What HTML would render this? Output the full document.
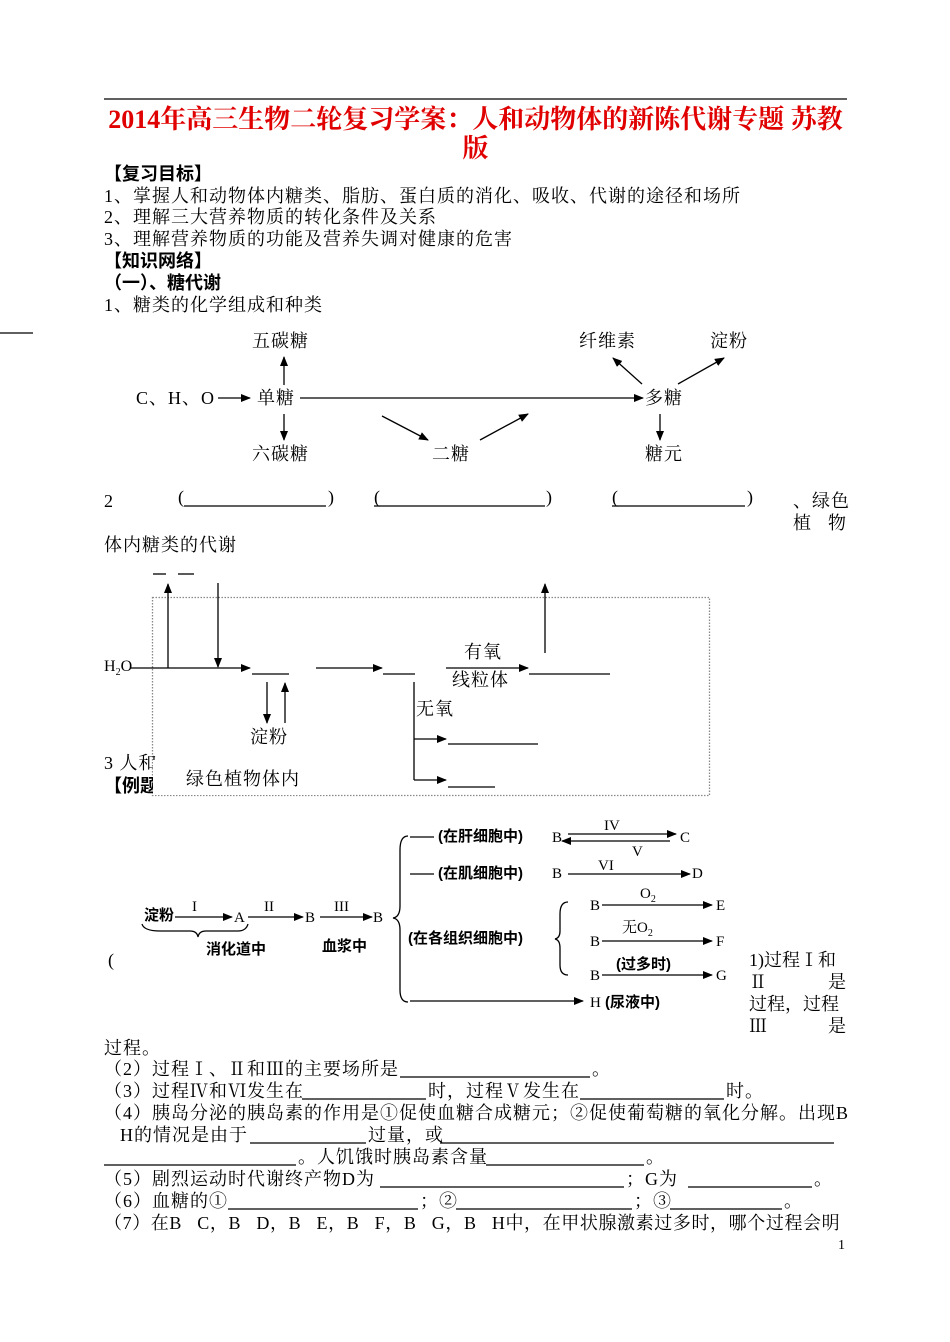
<!DOCTYPE html>
<html><head><meta charset="utf-8"><style>
body{margin:0;background:#fff;}
#p{position:relative;width:950px;height:1342px;overflow:hidden;font-family:"Liberation Serif","Noto Serif CJK SC",serif;font-size:18px;letter-spacing:1px;color:#000;}
.t{position:absolute;white-space:nowrap;line-height:20px;}
.b{font-weight:bold;font-family:"Liberation Sans","Noto Sans CJK SC",sans-serif;letter-spacing:0;}
.s{font-family:"Liberation Sans","Noto Sans CJK SC",sans-serif;font-weight:bold;font-size:15px;letter-spacing:0;}
.n{font-size:15px;letter-spacing:0;}
svg{position:absolute;left:0;top:0;}
</style></head><body><div id="p">
<svg width="950" height="1342">
<defs><marker id="a" markerWidth="10" markerHeight="8" refX="9" refY="4" orient="auto" markerUnits="userSpaceOnUse"><path d="M0,0L10,4L0,8z" fill="#000"/></marker></defs>
<g stroke="#000" stroke-width="1.3" fill="none">
<line x1="104" y1="99" x2="847" y2="99"/>
<line x1="0" y1="333" x2="33" y2="333"/>
<line x1="218" y1="398" x2="250" y2="398" marker-end="url(#a)"/>
<line x1="284" y1="385" x2="284" y2="357" marker-end="url(#a)"/>
<line x1="284" y1="414" x2="284" y2="440" marker-end="url(#a)"/>
<line x1="300" y1="398" x2="643" y2="398" marker-end="url(#a)"/>
<line x1="382" y1="416" x2="428" y2="440" marker-end="url(#a)"/>
<line x1="480" y1="440" x2="528" y2="414" marker-end="url(#a)"/>
<line x1="660" y1="414" x2="660" y2="440" marker-end="url(#a)"/>
<line x1="642" y1="384" x2="613" y2="358" marker-end="url(#a)"/>
<line x1="678" y1="384" x2="724" y2="358" marker-end="url(#a)"/>
<line x1="184" y1="506" x2="326" y2="506"/>
<line x1="374" y1="506" x2="545" y2="506"/>
<line x1="612" y1="506" x2="745" y2="506"/>
<rect x="152.5" y="597.5" width="557" height="198" stroke="#888" stroke-dasharray="1.5,1.5"/>
<line x1="153" y1="574" x2="166" y2="574"/><line x1="178" y1="574" x2="194" y2="574"/>
<line x1="130" y1="668" x2="250" y2="668" marker-end="url(#a)"/>
<line x1="168" y1="668" x2="168" y2="584" marker-end="url(#a)"/>
<line x1="218" y1="583" x2="218" y2="667" marker-end="url(#a)"/>
<line x1="252" y1="674" x2="289" y2="674"/>
<line x1="267" y1="682" x2="267" y2="723" marker-end="url(#a)"/>
<line x1="285" y1="723" x2="285" y2="683" marker-end="url(#a)"/>
<line x1="316" y1="668" x2="382" y2="668" marker-end="url(#a)"/>
<line x1="383" y1="674" x2="415" y2="674"/>
<line x1="414" y1="682" x2="414" y2="780"/>
<line x1="414" y1="739" x2="446" y2="739" marker-end="url(#a)"/>
<line x1="414" y1="780" x2="446" y2="780" marker-end="url(#a)"/>
<line x1="448" y1="744" x2="538" y2="744"/>
<line x1="448" y1="787" x2="495" y2="787"/>
<line x1="446" y1="668" x2="528" y2="668" marker-end="url(#a)"/>
<line x1="529" y1="674" x2="610" y2="674"/>
<line x1="545" y1="653" x2="545" y2="584" marker-end="url(#a)"/>
<line x1="175" y1="917" x2="232" y2="917" marker-end="url(#a)"/>
<line x1="248" y1="917" x2="303" y2="917" marker-end="url(#a)"/>
<line x1="320" y1="917" x2="372" y2="917" marker-end="url(#a)"/>
<path d="M142,924 Q144,931 160,931 L190,931 Q197,931 198,937 Q199,931 206,931 L238,931 Q246,931 248,924"/>
<path d="M408,836 Q400,836 400,850 L400,906 Q400,917 393,918 Q400,919 400,930 L400,990 Q400,1002 408,1002"/>
<line x1="410" y1="837" x2="434" y2="837"/>
<line x1="410" y1="874" x2="434" y2="874"/>
<line x1="568" y1="834" x2="676" y2="834" marker-end="url(#a)"/>
<line x1="670" y1="841" x2="562" y2="841" marker-end="url(#a)"/>
<line x1="568" y1="874" x2="690" y2="874" marker-end="url(#a)"/>
<path d="M568,902 Q560,902 560,914 L560,931 Q560,938 555,939 Q560,940 560,948 L560,965 Q560,975 568,975"/>
<line x1="602" y1="905" x2="712" y2="905" marker-end="url(#a)"/>
<line x1="602" y1="941" x2="712" y2="941" marker-end="url(#a)"/>
<line x1="602" y1="975" x2="712" y2="975" marker-end="url(#a)"/>
<line x1="410" y1="1001" x2="583" y2="1001" marker-end="url(#a)"/>
<line x1="400" y1="1077" x2="590" y2="1077"/>
<line x1="302" y1="1099" x2="426" y2="1099"/>
<line x1="580" y1="1099" x2="724" y2="1099"/>
<line x1="250" y1="1143" x2="366" y2="1143"/>
<line x1="440" y1="1143" x2="834" y2="1143"/>
<line x1="104" y1="1165" x2="296" y2="1165"/>
<line x1="486" y1="1165" x2="644" y2="1165"/>
<line x1="380" y1="1187" x2="624" y2="1187"/>
<line x1="688" y1="1187" x2="812" y2="1187"/>
<line x1="228" y1="1209" x2="418" y2="1209"/>
<line x1="456" y1="1209" x2="632" y2="1209"/>
<line x1="670" y1="1209" x2="782" y2="1209"/>
</g>
</svg>
<div class="t" style="left:104px;top:105px;width:743px;text-align:center;color:#e00000;font-weight:bold;font-size:26px;letter-spacing:0;line-height:29px;white-space:normal;">2014年高三生物二轮复习学案：人和动物体的新陈代谢专题&nbsp;苏教<br>版</div>
<div class="t b" style="left:104px;top:164px;">【复习目标】</div>
<div class="t" style="left:104px;top:186px;">1、掌握人和动物体内糖类、脂肪、蛋白质的消化、吸收、代谢的途径和场所</div>
<div class="t" style="left:104px;top:207px;">2、理解三大营养物质的转化条件及关系</div>
<div class="t" style="left:104px;top:229px;">3、理解营养物质的功能及营养失调对健康的危害</div>
<div class="t b" style="left:104px;top:251px;">【知识网络】</div>
<div class="t b" style="left:104px;top:273px;">（一）、糖代谢</div>
<div class="t" style="left:104px;top:295px;">1、糖类的化学组成和种类</div>
<div class="t" style="left:252px;top:331px;">五碳糖</div>
<div class="t" style="left:136px;top:388px;">C、H、O</div>
<div class="t" style="left:257px;top:388px;">单糖</div>
<div class="t" style="left:252px;top:444px;">六碳糖</div>
<div class="t" style="left:432px;top:444px;">二糖</div>
<div class="t" style="left:579px;top:331px;">纤维素</div>
<div class="t" style="left:710px;top:331px;">淀粉</div>
<div class="t" style="left:645px;top:388px;">多糖</div>
<div class="t" style="left:645px;top:444px;">糖元</div>
<div class="t" style="left:104px;top:491px;">2</div>
<div class="t" style="left:178px;top:487px;">(</div><div class="t" style="left:328px;top:487px;">)</div>
<div class="t" style="left:374px;top:487px;">(</div><div class="t" style="left:546px;top:487px;">)</div>
<div class="t" style="left:612px;top:487px;">(</div><div class="t" style="left:747px;top:487px;">)</div>
<div class="t" style="left:793px;top:491px;">、绿色</div>
<div class="t" style="left:793px;top:513px;width:54px;">植<span style="position:absolute;right:0">物</span></div>
<div class="t" style="left:104px;top:535px;">体内糖类的代谢</div>
<div class="t" style="left:104px;top:657px;font-size:16px;letter-spacing:0;">H<sub style="font-size:10px">2</sub>O</div>
<div class="t" style="left:464px;top:642px;">有氧</div>
<div class="t" style="left:452px;top:670px;">线粒体</div>
<div class="t" style="left:416px;top:699px;">无氧</div>
<div class="t" style="left:250px;top:727px;">淀粉</div>
<div class="t" style="left:104px;top:753px;">3 人和</div>
<div class="t b" style="left:104px;top:776px;">【例题</div>
<div class="t" style="left:153px;top:760px;width:175px;height:35px;background:#fff;"></div>
<div class="t" style="left:186px;top:769px;">绿色植物体内</div>
<div class="t s" style="left:144px;top:906px;">淀粉</div>
<div class="t n" style="left:192px;top:897px;">I</div>
<div class="t n" style="left:234px;top:908px;">A</div>
<div class="t n" style="left:264px;top:897px;">II</div>
<div class="t n" style="left:305px;top:908px;">B</div>
<div class="t n" style="left:334px;top:897px;">III</div>
<div class="t n" style="left:373px;top:908px;">B</div>
<div class="t s" style="left:206px;top:940px;">消化道中</div>
<div class="t s" style="left:322px;top:937px;">血浆中</div>
<div class="t s" style="left:438px;top:827px;">(在肝细胞中)</div>
<div class="t n" style="left:552px;top:828px;">B</div>
<div class="t n" style="left:604px;top:816px;">IV</div>
<div class="t n" style="left:632px;top:842px;">V</div>
<div class="t n" style="left:680px;top:828px;">C</div>
<div class="t s" style="left:438px;top:864px;">(在肌细胞中)</div>
<div class="t n" style="left:552px;top:864px;">B</div>
<div class="t n" style="left:598px;top:856px;">VI</div>
<div class="t n" style="left:692px;top:864px;">D</div>
<div class="t s" style="left:408px;top:929px;">(在各组织细胞中)</div>
<div class="t n" style="left:590px;top:896px;">B</div>
<div class="t n" style="left:640px;top:884px;">O<sub style="font-size:10px">2</sub></div>
<div class="t n" style="left:716px;top:896px;">E</div>
<div class="t n" style="left:590px;top:932px;">B</div>
<div class="t n" style="left:622px;top:918px;">无O<sub style="font-size:10px">2</sub></div>
<div class="t n" style="left:716px;top:932px;">F</div>
<div class="t n" style="left:590px;top:966px;">B</div>
<div class="t s" style="left:616px;top:955px;">(过多时)</div>
<div class="t n" style="left:716px;top:966px;">G</div>
<div class="t n" style="left:590px;top:993px;">H</div>
<div class="t s" style="left:605px;top:993px;">(尿液中)</div>
<div class="t" style="left:108px;top:950px;">(</div>
<div class="t" style="left:749px;top:950px;letter-spacing:0;">1)过程Ⅰ和</div>
<div class="t" style="left:749px;top:972px;width:98px;">Ⅱ<span style="position:absolute;right:0">是</span></div>
<div class="t" style="left:749px;top:994px;letter-spacing:0;">过程，过程</div>
<div class="t" style="left:749px;top:1016px;width:98px;">Ⅲ<span style="position:absolute;right:0">是</span></div>
<div class="t" style="left:104px;top:1038px;">过程。</div>
<div class="t" style="left:104px;top:1059px;">（2）过程Ⅰ、Ⅱ和Ⅲ的主要场所是</div>
<div class="t" style="left:592px;top:1059px;">。</div>
<div class="t" style="left:104px;top:1081px;">（3）过程Ⅳ和Ⅵ发生在</div>
<div class="t" style="left:428px;top:1081px;">时，过程Ⅴ发生在</div>
<div class="t" style="left:726px;top:1081px;">时。</div>
<div class="t" style="left:104px;top:1103px;">（4）胰岛分泌的胰岛素的作用是①促使血糖合成糖元；②促使葡萄糖的氧化分解。出现B</div>
<div class="t" style="left:120px;top:1125px;">H的情况是由于</div>
<div class="t" style="left:368px;top:1125px;">过量，或</div>
<div class="t" style="left:298px;top:1147px;">。人饥饿时胰岛素含量</div>
<div class="t" style="left:646px;top:1147px;">。</div>
<div class="t" style="left:104px;top:1169px;">（5）剧烈运动时代谢终产物D为</div>
<div class="t" style="left:626px;top:1169px;">；G为</div>
<div class="t" style="left:814px;top:1169px;">。</div>
<div class="t" style="left:104px;top:1191px;">（6）血糖的①</div>
<div class="t" style="left:420px;top:1191px;">；②</div>
<div class="t" style="left:634px;top:1191px;">；③</div>
<div class="t" style="left:784px;top:1191px;">。</div>
<div class="t" style="left:104px;top:1213px;letter-spacing:0.6px;">（7）在B&nbsp;&nbsp;&nbsp;C，B&nbsp;&nbsp;&nbsp;D，B&nbsp;&nbsp;&nbsp;E，B&nbsp;&nbsp;&nbsp;F，B&nbsp;&nbsp;&nbsp;G，B&nbsp;&nbsp;&nbsp;H中，在甲状腺激素过多时，哪个过程会明</div>
<div class="t" style="left:838px;top:1236px;font-size:14px;">1</div>
</div></body></html>
